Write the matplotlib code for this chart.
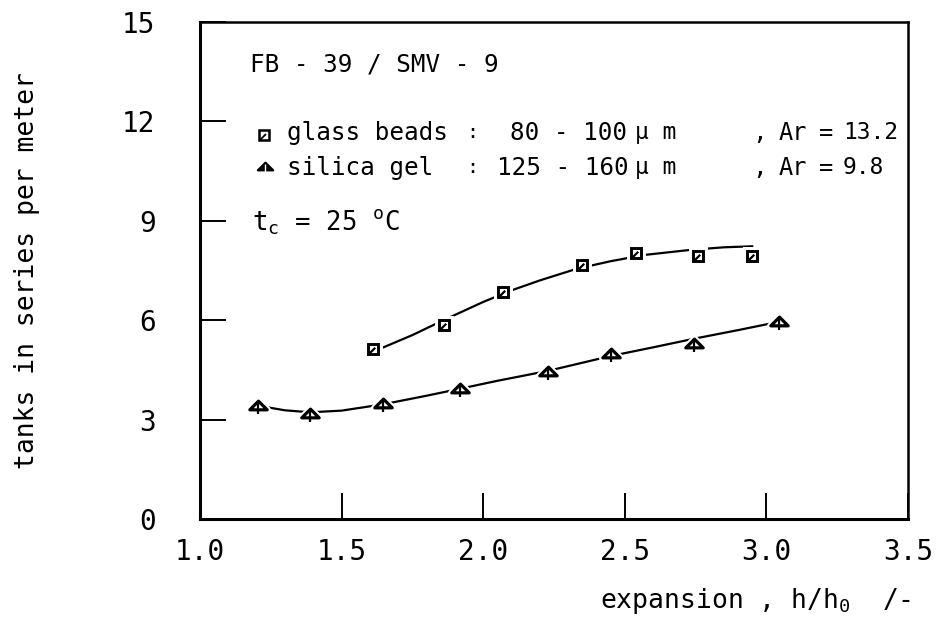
import numpy as np
import matplotlib
matplotlib.use("Agg")
import matplotlib.pyplot as plt
from matplotlib.path import Path

plt.rcParams['font.family'] = ['DejaVu Sans Mono', 'DejaVu Sans']
plt.rcParams['mathtext.fontset'] = 'custom'
plt.rcParams['mathtext.rm'] = 'DejaVu Sans Mono'
plt.rcParams['mathtext.it'] = 'DejaVu Sans Mono'

# glass beads 80-100 um (squares)
glass_x = [1.61, 1.86, 2.07, 2.35, 2.54, 2.76, 2.95]
glass_y = [5.13, 5.86, 6.85, 7.67, 8.03, 7.94, 7.94]
# hand-drawn trend curve through the glass beads points
glass_curve_x = [1.62, 1.75, 1.86, 2.0, 2.1, 2.2, 2.33, 2.45, 2.57, 2.73, 2.85, 2.95]
glass_curve_y = [5.08, 5.55, 6.0, 6.55, 6.9, 7.2, 7.55, 7.78, 7.97, 8.12, 8.2, 8.23]

# silica gel 125-160 um (triangles)
silica_x = [1.205, 1.388, 1.646, 1.918, 2.229, 2.451, 2.744, 3.044]
silica_y = [3.44, 3.20, 3.50, 3.95, 4.47, 5.01, 5.31, 5.98]
silica_curve_x = [1.205, 1.30, 1.39, 1.5, 1.646, 1.8, 1.918, 2.05, 2.229, 2.451, 2.6, 2.75, 2.9, 3.044]
silica_curve_y = [3.42, 3.28, 3.22, 3.27, 3.46, 3.72, 3.93, 4.17, 4.47, 4.92, 5.18, 5.45, 5.7, 5.95]

x_ticks = [1.0, 1.5, 2.0, 2.5, 3.0, 3.5]
y_ticks = [0, 3, 6, 9, 12, 15]

fig = plt.figure(figsize=(9.45, 6.36), dpi=100)
ax = fig.add_axes([0.2116, 0.184, 0.7492, 0.7814])

ax.plot(glass_curve_x, glass_curve_y, color='black', lw=1.6, zorder=2)
ax.plot(silica_curve_x, silica_curve_y, color='black', lw=1.6, zorder=2)

tri = Path([(-1, -0.5), (1, -0.5), (0, 0.5), (-1, -0.5)],
           [Path.MOVETO, Path.LINETO, Path.LINETO, Path.CLOSEPOLY])
diag = Path([(0.15, 0.15), (-0.45, -0.45)], [Path.MOVETO, Path.LINETO])
vert = Path([(0, -0.45), (0, 0.1)], [Path.MOVETO, Path.LINETO])

# white halo, then symbol
ax.plot(glass_x, glass_y, ls='none', marker='s', ms=8, mfc='white', mec='white', mew=5, zorder=3)
ax.plot(glass_x, glass_y, ls='none', marker='s', ms=7.5, mfc='white', mec='black', mew=2.1, zorder=4)
ax.plot(glass_x, glass_y, ls='none', marker=diag, ms=7.5, mec='black', mew=1.6, zorder=5)
ax.plot(silica_x, silica_y, ls='none', marker=tri, ms=13, mfc='white', mec='white', mew=5, zorder=3)
ax.plot(silica_x, silica_y, ls='none', marker=tri, ms=12.5, mfc='white', mec='black', mew=2.3, zorder=4)
ax.plot(silica_x, silica_y, ls='none', marker=vert, ms=12.5, mec='black', mew=1.6, zorder=5)

ax.set_xlim(1.0, 3.5)
ax.set_ylim(0, 15)
ax.set_xticks(x_ticks)
ax.set_xticklabels(['%.1f' % v for v in x_ticks])
ax.set_yticks(y_ticks)
ax.set_yticklabels([str(v) for v in y_ticks])
ax.tick_params(axis='both', direction='in', length=19, width=1.4, labelsize=20)
ax.tick_params(axis='x', pad=14)
ax.tick_params(axis='y', pad=32)

for side in ['left', 'bottom']:
    ax.spines[side].set_linewidth(2.2)
for side in ['top', 'right']:
    ax.spines[side].set_linewidth(1.8)

ax.set_ylabel('tanks in series per meter', fontsize=19)
ax.yaxis.set_label_coords(-0.226, 0.5)
ax.text(1.005, -0.165, r'expansion , h/h$_\mathregular{0}$  /-', transform=ax.transAxes,
        ha='right', va='center', fontsize=19)

fs = 17.5
tr = ax.transAxes
def px(x):
    return (x - 200) / 708.0

def py(y):
    return (519 - y) / 497.0

ax.text(px(250), py(64), 'FB - 39 / SMV - 9', transform=tr, fontsize=fs, va='center')

ax.plot([px(264)], [py(135)], transform=tr, ls='none', marker='s', ms=6.5, mfc='white', mec='black', mew=1.8, clip_on=False)
ax.plot([px(264)], [py(135)], transform=tr, ls='none', marker=diag, ms=6.5, mec='black', mew=1.3, clip_on=False)
ax.plot([px(265)], [py(166)], transform=tr, ls='none', marker=tri, ms=11, mfc='black', mec='black', mew=1.6, clip_on=False)
ax.plot([px(265)], [py(166)], transform=tr, ls='none', marker=vert, ms=11, mec='white', mew=1.0, clip_on=False)

rows = [
    (133, 'glass beads', '80 - 100', '13.2', 510),
    (168, 'silica gel', '125 - 160', '9.8', 497),
]
for yy, name, rng, ar, xr in rows:
    ax.text(px(287), py(yy), name, transform=tr, fontsize=fs, va='center')
    ax.text(px(466), py(yy), ':', transform=tr, fontsize=fs - 3, va='center')
    ax.text(px(xr), py(yy), rng, transform=tr, fontsize=fs, va='center')
    ax.text(px(635), py(yy), '\u00b5 m', transform=tr, fontsize=fs - 1, va='center')
    ax.text(px(752), py(yy), ',', transform=tr, fontsize=fs, va='center')
    ax.text(px(779), py(yy), 'Ar', transform=tr, fontsize=fs - 0.5, va='center')
    ax.text(px(819), py(yy), '=', transform=tr, fontsize=fs - 0.5, va='center')
    ax.text(px(843), py(yy), ar, transform=tr, fontsize=fs - 1, va='center')

ax.text(px(252), py(222), r't$_\mathregular{c}$ = 25 $^\mathregular{o}$C', transform=tr,
        fontsize=fs + 1, va='center')

fig.savefig('out.png', dpi=100)
